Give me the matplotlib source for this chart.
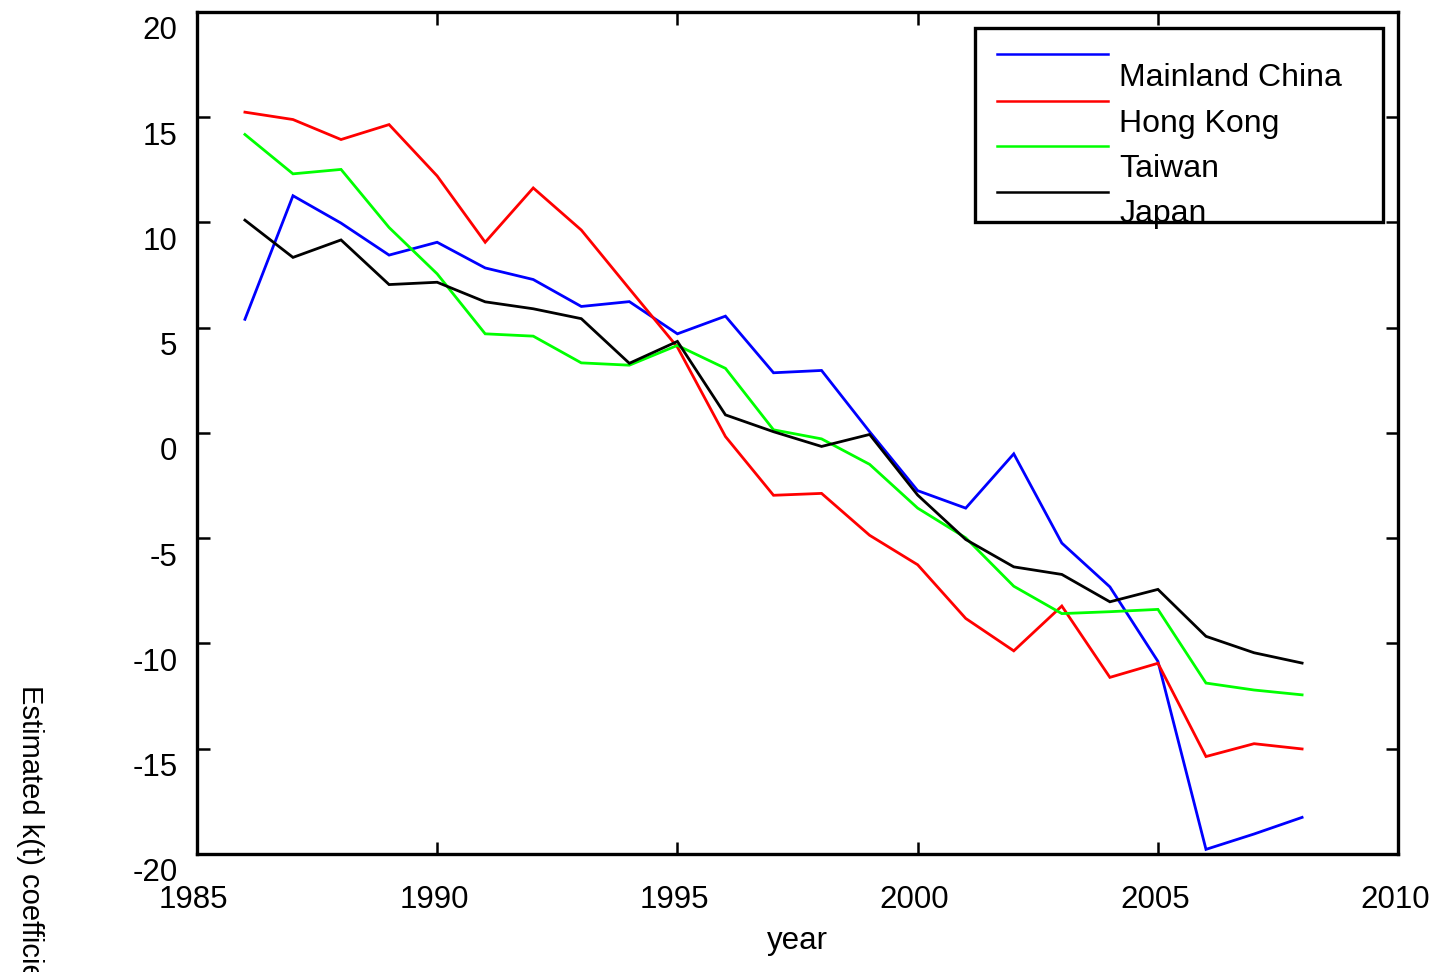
import matplotlib
matplotlib.use("Agg")
import matplotlib.pyplot as plt
from matplotlib import font_manager
from matplotlib.transforms import ScaledTranslation
from matplotlib.patches import Rectangle

years = list(range(1986, 2009))

mainland_china = [5.40, 11.27, 9.97, 8.45, 9.06, 7.84, 7.29, 6.01, 6.24, 4.71, 5.55, 2.86,
                  2.97, 0.06, -2.74, -3.57, -0.99, -5.23, -7.31, -10.85, -19.78, -19.05, -18.26]
hong_kong = [15.24, 14.89, 13.94, 14.65, 12.21, 9.06, 11.64, 9.64, 6.85, 4.08, -0.17, -2.96,
             -2.87, -4.86, -6.26, -8.81, -10.35, -8.22, -11.61, -10.94, -15.37, -14.76, -15.01]
taiwan = [14.18, 12.31, 12.52, 9.76, 7.56, 4.71, 4.60, 3.33, 3.22, 4.16, 3.07, 0.15,
          -0.28, -1.49, -3.57, -4.98, -7.28, -8.58, -8.49, -8.38, -11.88, -12.21, -12.44]
japan = [10.11, 8.34, 9.17, 7.05, 7.16, 6.23, 5.90, 5.43, 3.31, 4.35, 0.86, 0.06,
         -0.64, -0.07, -2.95, -5.06, -6.36, -6.72, -8.02, -7.43, -9.66, -10.44, -10.93]

series_names = ["Mainland China", "Hong Kong", "Taiwan", "Japan"]
series_values = [mainland_china, hong_kong, taiwan, japan]
series_colors = ["#0000ff", "#ff0000", "#00ff00", "#000000"]

x_ticks = [1985, 1990, 1995, 2000, 2005, 2010]
y_ticks = [-20, -15, -10, -5, 0, 5, 10, 15, 20]

available = {f.name for f in font_manager.fontManager.ttflist}
main_font = "Liberation Sans" if "Liberation Sans" in available else "DejaVu Sans"
narrow_font = "Liberation Sans Narrow" if "Liberation Sans Narrow" in available else main_font
plt.rcParams["font.family"] = [main_font, "DejaVu Sans"]

fs = 22.5
fig = plt.figure(figsize=(14.37, 9.72), dpi=100)
ax = fig.add_axes([0.137, 0.1214, 0.836, 0.8663])

for vals, col in zip(series_values, series_colors):
    ax.plot(years, vals, color=col, lw=2.0, solid_joinstyle="miter")

ax.set_xlim(1985, 2010)
ax.set_ylim(-20, 20)
ax.set_xticks(x_ticks)
ax.set_yticks(y_ticks)
ax.set_xticklabels([str(v) for v in x_ticks], fontsize=fs)
ax.set_yticklabels([str(v) for v in y_ticks], fontsize=fs)
ax.tick_params(direction="in", length=9, width=1.8, top=True, right=True,
               labelsize=fs, color="black")
ax.tick_params(axis="x", pad=22)
ax.tick_params(axis="y", pad=14)
for s in ax.spines.values():
    s.set_linewidth(2.4)

# y tick labels sit a little below their ticks, x tick labels slightly left
yshift = ScaledTranslation(0, -16 / 100, fig.dpi_scale_trans)
for lab in ax.get_yticklabels():
    lab.set_transform(lab.get_transform() + yshift)
xshift = ScaledTranslation(-3 / 100, 0, fig.dpi_scale_trans)
for lab in ax.get_xticklabels():
    lab.set_transform(lab.get_transform() + xshift)

ax.set_xlabel("year", fontsize=fs, labelpad=8)
fig.text(0.021, 0.295, "Estimated k(t) coefficient", rotation=-90, fontsize=21,
         family=[narrow_font, "DejaVu Sans"], ha="center", va="top")

# legend box
ax.add_patch(Rectangle((0.648, 0.7506), 0.3395, 0.2304, transform=ax.transAxes,
                       fill=True, facecolor="white", edgecolor="black", lw=2.4,
                       zorder=5, clip_on=False))
line_y = [0.950, 0.894, 0.841, 0.786]
text_y = [0.922, 0.867, 0.814, 0.760]
for name, col, ly, ty in zip(series_names, series_colors, line_y, text_y):
    ax.plot([0.666, 0.7585], [ly, ly], color=col, lw=1.8, transform=ax.transAxes,
            zorder=6, clip_on=False)
    ax.text(0.768, ty, name, transform=ax.transAxes, fontsize=23, ha="left",
            va="center", zorder=7)

fig.savefig("out.png", dpi=100)
